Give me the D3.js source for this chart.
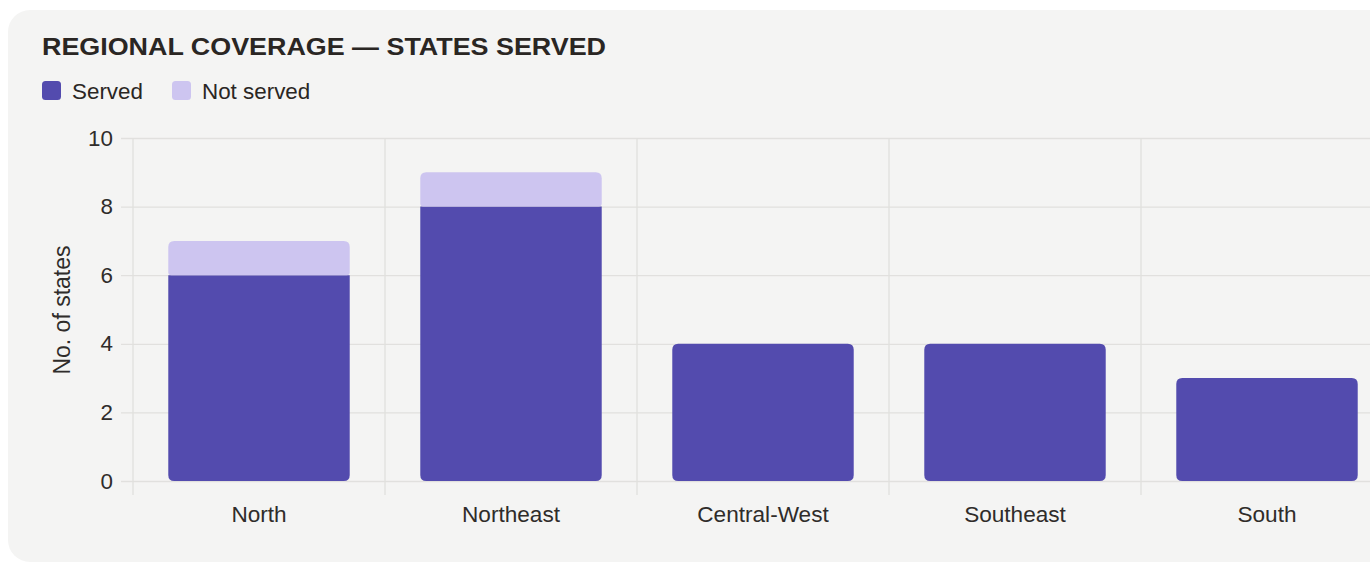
<!DOCTYPE html>
<html><head><meta charset="utf-8">
<script src="https://cdn.jsdelivr.net/npm/d3@7/dist/d3.min.js"></script>
<style>
html,body{margin:0;padding:0;background:#fff;overflow:hidden;}
svg{display:block;font-family:"Liberation Sans",Arial,Helvetica,sans-serif;}
</style></head><body>
<svg id="c" width="1370" height="564"></svg>
<script>
const categories = ["North","Northeast","Central-West","Southeast","South"];
const served = [6,8,4,4,3];
const notServed = [1,1,0,0,0];
const yTicks = [0,2,4,6,8,10];
const seriesNames = ["Served","Not served"];
const colors = ["#534bae","#cdc5f0"];
const FONT = "'Liberation Sans',Arial,Helvetica,sans-serif";

const svg = d3.select("#c");
svg.append("rect").attr("x",8).attr("y",10).attr("width",1400).attr("height",552).attr("rx",22).attr("fill","#f4f4f3");

svg.append("text").attr("x",42).attr("y",54.5).attr("font-size",24).attr("font-weight",700)
  .attr("fill","#2a2623").attr("textLength",564).attr("lengthAdjust","spacingAndGlyphs")
  .text("REGIONAL COVERAGE — STATES SERVED");

const leg = svg.append("g");
const legX = [42,172];
seriesNames.forEach((n,i)=>{
  leg.append("rect").attr("x",legX[i]).attr("y",81).attr("width",19).attr("height",19).attr("rx",3.5).attr("fill",colors[i]);
  leg.append("text").attr("x",legX[i]+30).attr("y",98.5).attr("font-size",22.4).attr("fill","#2a2623").text(n);
});

const x = d3.scaleBand().domain(categories).range([133,1393]).paddingInner(0.28).paddingOuter(0.14);
const y = d3.scaleLinear().domain([0,10]).range([481,138]);
const step = x.step();

// horizontal grid
const gy = svg.append("g").attr("transform","translate(133,0)")
  .call(d3.axisLeft(y).tickValues(yTicks).tickSize(-1300).tickPadding(9));
gy.select(".domain").remove();
gy.selectAll(".tick line").attr("stroke","#e1e0de").attr("stroke-width",1.3).attr("x1",-12);
gy.selectAll(".tick text").attr("font-size",22.4).attr("fill","#2f2c2a").attr("font-family",FONT).attr("x",-20);

// vertical grid at band boundaries
const bx = categories.map((c,i)=>133+i*step);
svg.append("g").selectAll("line").data(bx).join("line")
  .attr("x1",d=>d).attr("x2",d=>d).attr("y1",138).attr("y2",495)
  .attr("stroke","#e1e0de").attr("stroke-width",1.3);

// x axis labels
const gx = svg.append("g").attr("transform","translate(0,481)")
  .call(d3.axisBottom(x).tickSize(0).tickPadding(25));
gx.select(".domain").remove();
gx.selectAll(".tick text").attr("font-size",22.6).attr("fill","#2f2c2a").attr("font-family",FONT);

function roundedPath(x0,y0,w,h,rt,rb){
  const x1=x0+w,y1=y0+h;
  return `M${x0+rt},${y0}H${x1-rt}Q${x1},${y0} ${x1},${y0+rt}V${y1-rb}Q${x1},${y1} ${x1-rb},${y1}H${x0+rb}Q${x0},${y1} ${x0},${y1-rb}V${y0+rt}Q${x0},${y0} ${x0+rt},${y0}Z`;
}

const bars = svg.append("g");
categories.forEach((c,i)=>{
  const bw = x.bandwidth(), x0 = x(c);
  const top = y(served[i]), bot = y(0);
  bars.append("path").attr("fill",colors[0])
    .attr("d",roundedPath(x0,top,bw,bot-top, notServed[i]>0?0:6, 6));
  if(notServed[i]>0){
    const t2 = y(served[i]+notServed[i]);
    bars.append("path").attr("fill",colors[1])
      .attr("d",roundedPath(x0,t2,bw,top-t2,6,3));
  }
});

// y axis title
svg.append("text").attr("transform","translate(70,310) rotate(-90)").attr("text-anchor","middle")
  .attr("font-size",23).attr("fill","#2f2c2a").text("No. of states");
</script>
</body></html>
